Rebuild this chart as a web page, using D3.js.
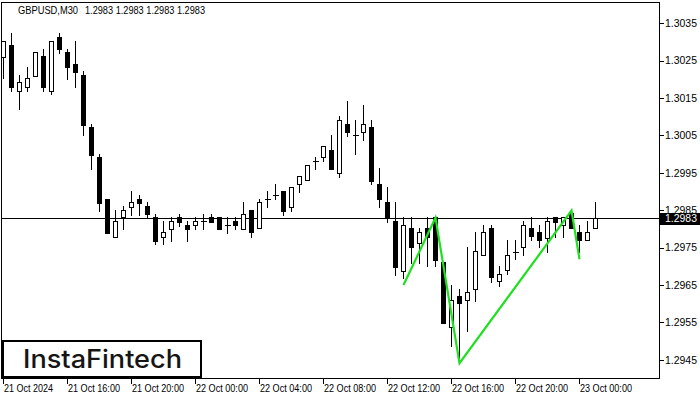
<!DOCTYPE html>
<html>
<head>
<meta charset="utf-8">
<script src="https://cdn.jsdelivr.net/npm/d3@7/dist/d3.min.js"></script>
<style>
  html, body { margin: 0; padding: 0; background: #fff; }
  svg { display: block; }
  text { font-family: "Liberation Sans", Arial, sans-serif; }
</style>
</head>
<body>
<svg id="chart" width="700" height="400"></svg>
<script>
// ---- data (GBPUSD, M30) ----
const opens = [1.30259,1.30291,1.30168,1.30179,1.30208,1.30262,1.30168,1.30313,1.30273,1.30241,
1.30211,1.30072,1.29992,1.29880,1.29779,1.29832,1.29859,1.29880,1.29861,1.29832,
1.29779,1.29800,1.29832,1.29811,1.29811,1.29821,1.29832,1.29832,1.29811,1.29821,
1.29800,1.29851,1.29803,1.29880,1.29891,1.29901,1.29859,1.29920,1.29931,1.29982,
1.29992,1.30011,1.29950,1.30080,1.30051,1.30059,1.30072,1.29920,1.29872,1.29821,
1.29688,1.29803,1.29763,1.29803,1.29832,1.29712,1.29538,1.29621,1.29610,1.29640,
1.29731,1.29803,1.29661,1.29691,1.29739,1.29752,1.29803,1.29792,1.29776,1.29832,
1.29811,1.29843,1.29792,1.29771,1.29803];
const highs = [1.30302,1.30323,1.30211,1.30233,1.30273,1.30281,1.30302,1.30323,1.30281,1.30302,
1.30222,1.30080,1.30000,1.29880,1.29851,1.29861,1.29901,1.29891,1.29872,1.29840,
1.29821,1.29832,1.29840,1.29821,1.29832,1.29840,1.29840,1.29832,1.29832,1.29832,
1.29872,1.29851,1.29880,1.29901,1.29920,1.29901,1.29912,1.29941,1.29971,1.29992,
1.30022,1.30051,1.30102,1.30142,1.30091,1.30131,1.30091,1.29963,1.29912,1.29872,
1.29832,1.29832,1.29803,1.29832,1.29832,1.29712,1.29650,1.29640,1.29752,1.29792,
1.29811,1.29811,1.29701,1.29771,1.29771,1.29821,1.29832,1.29811,1.29832,1.29832,
1.29832,1.29851,1.29811,1.29821,1.29872];
const lows = [1.30203,1.30168,1.30120,1.30168,1.30208,1.30168,1.30160,1.30270,1.30200,1.30179,
1.30051,1.29960,1.29848,1.29789,1.29779,1.29800,1.29837,1.29837,1.29832,1.29760,
1.29760,1.29768,1.29808,1.29768,1.29800,1.29800,1.29819,1.29800,1.29789,1.29800,
1.29800,1.29779,1.29803,1.29859,1.29880,1.29837,1.29848,1.29899,1.29931,1.29960,
1.29982,1.29960,1.29939,1.30048,1.30000,1.30038,1.29920,1.29859,1.29819,1.29677,
1.29669,1.29709,1.29709,1.29701,1.29701,1.29549,1.29488,1.29442,1.29528,1.29608,
1.29731,1.29658,1.29648,1.29680,1.29720,1.29731,1.29771,1.29752,1.29739,1.29779,
1.29779,1.29803,1.29739,1.29771,1.29803];
const closes = [1.30302,1.30179,1.30192,1.30203,1.30273,1.30179,1.30302,1.30281,1.30233,1.30219,
1.30078,1.29998,1.29869,1.29789,1.29821,1.29851,1.29872,1.29869,1.29840,1.29768,
1.29792,1.29821,1.29819,1.29800,1.29821,1.29821,1.29819,1.29800,1.29811,1.29811,
1.29840,1.29792,1.29872,1.29880,1.29891,1.29848,1.29912,1.29941,1.29971,1.29982,
1.30022,1.29960,1.30091,1.30059,1.30051,1.30080,1.29928,1.29880,1.29832,1.29699,
1.29811,1.29752,1.29792,1.29779,1.29717,1.29549,1.29610,1.29602,1.29632,1.29741,
1.29792,1.29672,1.29680,1.29731,1.29739,1.29811,1.29781,1.29771,1.29821,1.29819,
1.29832,1.29803,1.29771,1.29792,1.29830];

// pattern line (bar index, price)
const patternIdx = [50, 54, 57, 71, 72];
const patternPrice = [1.29650, 1.29830, 1.29441, 1.29849, 1.29719];

// axis labels
const xTickIdx = [0, 8, 16, 24, 32, 40, 48, 56, 64, 72];
const xTickLabels = ["21 Oct 2024","21 Oct 16:00","21 Oct 20:00","22 Oct 00:00","22 Oct 04:00",
                     "22 Oct 08:00","22 Oct 12:00","22 Oct 16:00","22 Oct 20:00","23 Oct 00:00"];
const yTicks = [1.2945,1.2955,1.2965,1.2975,1.2985,1.2995,1.3005,1.3015,1.3025,1.3035];
const lastPrice = 1.2983;
const symbol = "GBPUSD,M30";
const ohlcText = "1.2983 1.2983 1.2983 1.2983";

// ---- drawing ----
const svg = d3.select("#chart");
const L = 1.5, R = 659.5, T = 2.5, B = 378.5;

const x = d3.scaleLinear().domain([0, 74]).range([3.5, 595.5]);
const y = d3.scaleLinear().domain([1.2945, 1.3035]).range([359.8, 23.3]);
const py = v => Math.round(y(v)) + 0.5;

svg.append("defs").append("clipPath").attr("id", "plotclip")
  .append("rect").attr("x", L + 0.5).attr("y", T + 0.5).attr("width", R - L - 1).attr("height", B - T - 1);

const plot = svg.append("g").attr("clip-path", "url(#plotclip)");

// last price line
plot.append("line")
  .attr("x1", L).attr("x2", R)
  .attr("y1", py(lastPrice)).attr("y2", py(lastPrice))
  .attr("stroke", "#000").attr("stroke-width", 1).attr("shape-rendering", "crispEdges");

const bars = d3.range(opens.length).map(i => ({i, o: opens[i], h: highs[i], l: lows[i], c: closes[i]}));

const g = plot.append("g").attr("shape-rendering", "crispEdges");
// wicks
g.selectAll("line.wick").data(bars).join("line").attr("class", "wick")
  .attr("x1", d => x(d.i)).attr("x2", d => x(d.i))
  .attr("y1", d => py(d.h) - 0.5).attr("y2", d => py(d.l) + 0.5)
  .attr("stroke", "#000").attr("stroke-width", 1);
// bodies
bars.forEach(d => {
  const yt = py(Math.max(d.o, d.c)), yb = py(Math.min(d.o, d.c));
  const cx = x(d.i);
  if (yb - yt < 1) {
    g.append("line").attr("x1", cx - 3).attr("x2", cx + 3).attr("y1", yt).attr("y2", yt)
      .attr("stroke", "#000").attr("stroke-width", 1);
  } else {
    g.append("rect").attr("x", cx - 2).attr("y", yt).attr("width", 4).attr("height", yb - yt)
      .attr("fill", d.c >= d.o ? "#fff" : "#000").attr("stroke", "#000").attr("stroke-width", 1);
  }
});

// pattern line
const pline = d3.line().x(d => x(d[0])).y(d => y(d[1]));
plot.append("path")
  .attr("d", pline(patternIdx.map((v, k) => [v, patternPrice[k]])))
  .attr("fill", "none").attr("stroke", "#1ee01e").attr("stroke-width", 2.2)
  .attr("stroke-linejoin", "miter");

// frame
svg.append("rect").attr("x", L).attr("y", T).attr("width", R - L).attr("height", B - T)
  .attr("fill", "none").attr("stroke", "#000").attr("stroke-width", 1).attr("shape-rendering", "crispEdges");

// right axis
const ya = svg.append("g");
ya.selectAll("line").data(yTicks).join("line")
  .attr("x1", R).attr("x2", R + 4).attr("y1", d => py(d)).attr("y2", d => py(d))
  .attr("stroke", "#000").attr("shape-rendering", "crispEdges");
ya.selectAll("text").data(yTicks).join("text")
  .attr("x", 665).attr("y", d => y(d) + 3.8)
  .attr("font-size", "10.5px").attr("fill", "#000")
  .attr("textLength", 32).attr("lengthAdjust", "spacingAndGlyphs")
  .text(d => d.toFixed(4));

// last price box
svg.append("rect").attr("x", 659.5).attr("y", py(lastPrice) - 6).attr("width", 40).attr("height", 12)
  .attr("fill", "#000").attr("shape-rendering", "crispEdges");
svg.append("text").attr("x", 665).attr("y", y(lastPrice) + 3.8)
  .attr("font-size", "10.5px").attr("fill", "#fff")
  .attr("textLength", 32).attr("lengthAdjust", "spacingAndGlyphs")
  .text(lastPrice.toFixed(4));

// bottom axis
const xa = svg.append("g");
xa.selectAll("line").data(xTickIdx).join("line")
  .attr("x1", d => x(d)).attr("x2", d => x(d)).attr("y1", B).attr("y2", B + 5)
  .attr("stroke", "#000").attr("shape-rendering", "crispEdges");
xa.selectAll("text").data(xTickIdx).join("text")
  .attr("x", d => x(d) + 0.5).attr("y", 392)
  .attr("font-size", "10px").attr("fill", "#000")
  .attr("textLength", (d, k) => k === 0 ? 49 : 52).attr("lengthAdjust", "spacingAndGlyphs")
  .text((d, k) => xTickLabels[k]);

// title
svg.append("text").attr("x", 18).attr("y", 14).attr("font-size", "10.5px").attr("fill", "#000")
  .attr("textLength", 60).attr("lengthAdjust", "spacingAndGlyphs").text(symbol);
svg.append("text").attr("x", 85).attr("y", 14).attr("font-size", "10.5px").attr("fill", "#000")
  .attr("textLength", 120).attr("lengthAdjust", "spacingAndGlyphs").text(ohlcText);

// logo
svg.append("rect").attr("x", 3).attr("y", 341).attr("width", 198).attr("height", 36)
  .attr("fill", "#fff").attr("stroke", "#000").attr("stroke-width", 2);
svg.append("text").attr("x", 23).attr("y", 368)
  .style("font-family", "Inter, 'Noto Sans', sans-serif").attr("font-size", "25px").attr("font-weight", 500)
  .attr("fill", "#151515").attr("textLength", 159).attr("lengthAdjust", "spacingAndGlyphs")
  .text("InstaFintech");
</script>
</body>
</html>
